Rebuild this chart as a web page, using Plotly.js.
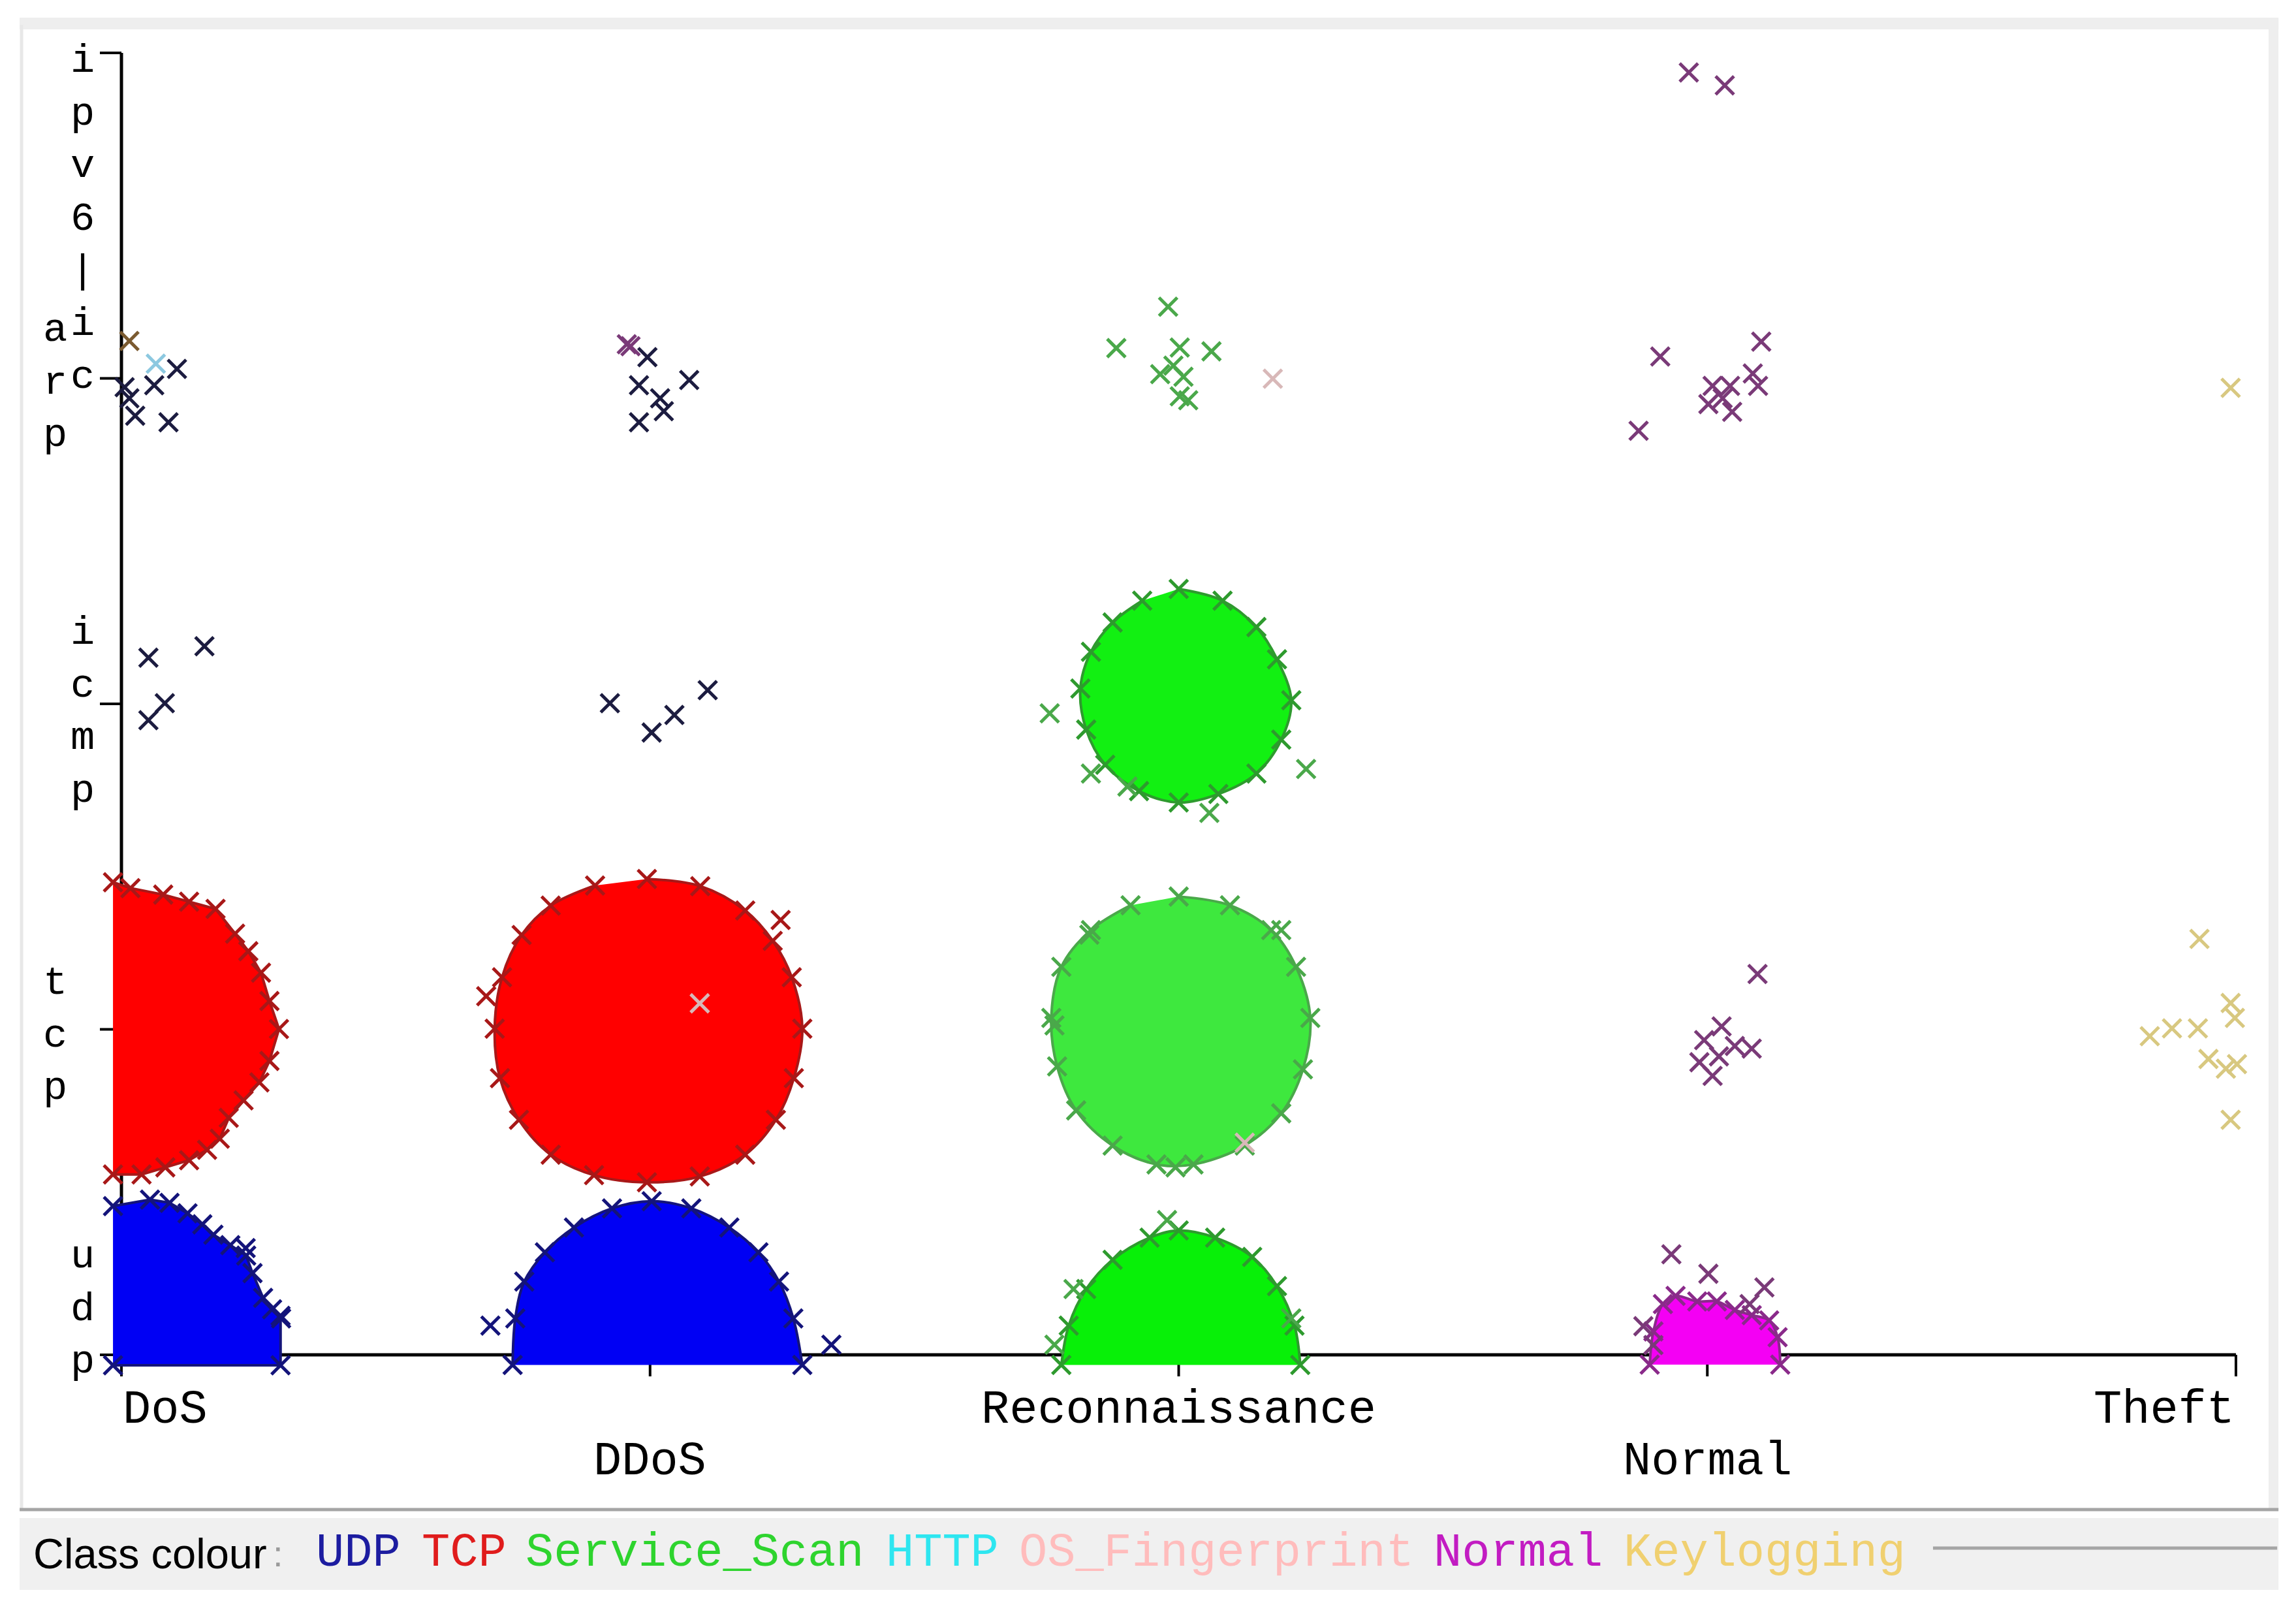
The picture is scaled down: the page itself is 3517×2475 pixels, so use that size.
<!DOCTYPE html>
<html>
<head>
<meta charset="utf-8">
<script src="https://cdn.plot.ly/plotly-3.0.1.min.js"></script>
<style>
html, body { margin: 0; padding: 0; background: #ffffff; }
#Grafico { width: 3517px; height: 2475px; }
</style>
</head>
<body>
<div id="Grafico"></div>
<script>
// categorias de los ejes (x = clase de ataque, y = protocolo)
let categoriasX = ['DoS', 'DDoS', 'Reconnaissance', 'Normal', 'Theft'];
let categoriasY = ['udp', 'tcp', 'icmp', 'arp', 'ipv6-icmp'];
let clases = ['UDP', 'TCP', 'Service_Scan', 'HTTP', 'OS_Fingerprint', 'Normal', 'Keylogging'];
let coloresLeyenda = ['#1c1ca0', '#e01c1c', '#2ed42e', '#2ee6f0', '#ffbcbc', '#c21cc2', '#f0d070'];

// contornos de las nubes densas (jitter)
let dosTcpX = [-0.016, 0.017, 0.079, 0.128, 0.178, 0.215, 0.240, 0.264, 0.280, 0.298, 0.280, 0.261, 0.231, 0.203, 0.186, 0.162, 0.128, 0.083, 0.038, -0.016];
let dosTcpY = [1.452, 1.434, 1.414, 1.392, 1.370, 1.294, 1.240, 1.174, 1.087, 1.001, 0.903, 0.837, 0.782, 0.728, 0.664, 0.630, 0.598, 0.576, 0.554, 0.554];
let dosUdpX = [-0.016, 0.054, 0.091, 0.125, 0.153, 0.174, 0.206, 0.236, 0.248, 0.268, 0.285, 0.301, 0.301, -0.016];
let dosUdpY = [0.457, 0.477, 0.467, 0.435, 0.401, 0.369, 0.337, 0.305, 0.251, 0.175, 0.140, 0.120, -0.032, -0.032];
let ddosTcpX = [0.994, 1.095, 1.180, 1.232, 1.268, 1.288, 1.272, 1.238, 1.180, 1.094, 0.994, 0.894, 0.812, 0.752, 0.716, 0.706, 0.720, 0.757, 0.812, 0.896];
let ddosTcpY = [1.462, 1.440, 1.365, 1.272, 1.160, 1.002, 0.850, 0.722, 0.615, 0.548, 0.530, 0.552, 0.615, 0.722, 0.850, 1.002, 1.160, 1.290, 1.380, 1.442];
let ddosUdpX = [0.740, 0.745, 0.762, 0.801, 0.856, 0.928, 1.003, 1.078, 1.150, 1.205, 1.244, 1.271, 1.288];
let ddosUdpY = [-0.031, 0.112, 0.225, 0.315, 0.391, 0.450, 0.472, 0.450, 0.391, 0.315, 0.225, 0.112, -0.031];
let reconIcmpX = [2.000, 2.083, 2.147, 2.186, 2.213, 2.194, 2.147, 2.075, 2.000, 1.925, 1.861, 1.825, 1.814, 1.834, 1.875, 1.931];
let reconIcmpY = [2.353, 2.317, 2.236, 2.137, 2.011, 1.890, 1.786, 1.723, 1.697, 1.732, 1.813, 1.921, 2.047, 2.160, 2.250, 2.317];
let reconTcpX = [2.000, 2.097, 2.175, 2.222, 2.249, 2.235, 2.194, 2.125, 2.028, 1.958, 1.875, 1.806, 1.770, 1.759, 1.778, 1.834, 1.909];
let reconTcpY = [1.408, 1.381, 1.305, 1.192, 1.035, 0.877, 0.742, 0.643, 0.585, 0.585, 0.643, 0.751, 0.886, 1.035, 1.192, 1.305, 1.381];
let reconUdpX = [1.778, 1.792, 1.825, 1.875, 1.945, 2.000, 2.069, 2.139, 2.186, 2.219, 2.230];
let reconUdpY = [-0.031, 0.090, 0.202, 0.292, 0.360, 0.382, 0.360, 0.301, 0.211, 0.090, -0.031];
let normalUdpX = [2.891, 2.898, 2.916, 2.940, 2.981, 3.018, 3.052, 3.084, 3.117, 3.133, 3.138];
let normalUdpY = [-0.030, 0.072, 0.156, 0.181, 0.164, 0.164, 0.138, 0.122, 0.106, 0.054, -0.030];

// puntos sueltos
let oscurosX = [0.105, 0.062, 0.006, 0.015, 0.026, 0.089, 0.995, 1.074, 0.979, 1.019, 1.026, 0.979, 0.051, 0.157, 0.082, 0.051, 0.924, 1.109, 1.046, 1.003];
let oscurosY = [3.029, 2.979, 2.973, 2.939, 2.885, 2.865, 3.065, 2.995, 2.979, 2.939, 2.899, 2.865, 2.142, 2.177, 2.002, 1.950, 2.002, 2.042, 1.966, 1.912];
let azulesX = [1.343, 0.698, 0.302, 0.235];
let azulesY = [0.031, 0.090, 0.112, 0.328];
let rojosX = [0.690, 1.247];
let rojosY = [1.102, 1.336];
let verdesX = [1.980, 1.882, 2.062, 2.002, 1.990, 1.965, 2.009, 2.002, 2.018, 1.756, 2.241, 1.903, 2.058, 1.834, 1.831, 2.194, 1.765, 1.994, 1.978, 1.801, 1.765, 2.213];
let verdesY = [3.220, 3.093, 3.083, 3.095, 3.039, 3.013, 3.005, 2.945, 2.933, 1.971, 1.800, 1.746, 1.665, 1.786, 1.291, 1.305, 1.012, 0.576, 0.414, 0.202, 0.031, 0.112];
let httpX = [0.065];
let httpY = [3.045];
let osfX = [2.178, 2.125, 1.094];
let osfY = [2.999, 0.652, 1.080];
let normalX = [2.965, 3.033, 2.911, 3.102, 3.086, 3.010, 3.043, 3.096, 3.002, 3.047, 2.870, 3.029, 3.095, 3.027, 2.994, 3.052, 3.084, 2.985, 3.010, 3.022, 2.932, 3.002, 3.108, 3.080, 2.879, 2.898, 0.956, 0.963];
let normalY = [3.940, 3.900, 3.067, 3.113, 3.015, 2.977, 2.977, 2.977, 2.921, 2.897, 2.839, 2.939, 1.170, 1.009, 0.967, 0.949, 0.941, 0.899, 0.857, 0.917, 0.309, 0.249, 0.207, 0.156, 0.088, 0.030, 3.105, 3.099];
let keyloggingX = [3.990, 3.931, 3.837, 3.879, 3.928, 3.990, 3.998, 3.948, 3.981, 4.002, 3.990];
let keyloggingY = [2.971, 1.278, 0.979, 1.003, 1.003, 1.081, 1.035, 0.909, 0.879, 0.893, 0.722];
let marronX = [0.015];
let marronY = [3.115];

let rangoX = [-0.0445, 4.0247];
let rangoY = [-0.0742, 4.0321];
function papelX(v) { return (v - rangoX[0]) / (rangoX[1] - rangoX[0]); }
function papelY(v) { return (v - rangoY[0]) / (rangoY[1] - rangoY[0]); }

function mancha(x, y, relleno, borde, forma) {
	return {
		x: x, y: y, type: 'scatter', mode: 'lines+markers', fill: 'toself',
		fillcolor: relleno, line: {color: borde, width: 4, shape: forma, smoothing: 1},
		marker: {symbol: 'x-thin', size: 28, line: {color: borde, width: 5}},
		hoverinfo: 'skip'
	};
}

function cruces(x, y, color) {
	return {
		x: x, y: y, type: 'scatter', mode: 'markers',
		marker: {symbol: 'x-thin', size: 28, line: {color: color, width: 5}},
		hoverinfo: 'skip'
	};
}

let trazas = [
	mancha(dosTcpX, dosTcpY, '#ff0000', '#a81818', 'linear'),
	mancha(dosUdpX, dosUdpY, '#0000f4', '#14147a', 'linear'),
	mancha(ddosTcpX, ddosTcpY, '#ff0000', '#a81818', 'spline'),
	mancha(ddosUdpX, ddosUdpY, '#0000f4', '#14147a', 'spline'),
	mancha(reconIcmpX, reconIcmpY, '#12f012', '#2e9a2e', 'spline'),
	mancha(reconTcpX, reconTcpY, '#3ee83e', '#4aa84a', 'spline'),
	mancha(reconUdpX, reconUdpY, '#08f008', '#2e9a2e', 'spline'),
	mancha(normalUdpX, normalUdpY, '#f400f4', '#8a2a8a', 'spline'),
	cruces(oscurosX, oscurosY, '#1c1c40'),
	cruces(azulesX, azulesY, '#14147a'),
	cruces(rojosX, rojosY, '#a81818'),
	cruces(verdesX, verdesY, '#4aa84a'),
	cruces(httpX, httpY, '#8cc8e0'),
	cruces(osfX, osfY, '#d8b8b8'),
	cruces(normalX, normalY, '#7a3a78'),
	cruces(keyloggingX, keyloggingY, '#d8c880'),
	cruces(marronX, marronY, '#7a5a30')
];

// ejes dibujados a mano como en Weka
let formas = [
	{type: 'line', xref: 'x', yref: 'y', x0: 0, x1: 4, y0: 0, y1: 0, line: {color: '#000000', width: 5}, layer: 'below'},
	{type: 'line', xref: 'x', yref: 'y', x0: 0, x1: 0, y0: 0, y1: 4, line: {color: '#000000', width: 5}, layer: 'below'}
];
for (let i = 0; i < categoriasX.length; i++) {
	formas.push({type: 'line', xref: 'x', yref: 'y', ysizemode: 'pixel', yanchor: 0, x0: i, x1: i, y0: 0, y1: -33,
		line: {color: '#000000', width: 4}, layer: 'below'});
}
for (let j = 0; j < categoriasY.length; j++) {
	formas.push({type: 'line', xref: 'x', yref: 'y', xsizemode: 'pixel', xanchor: 0, x0: -33, x1: 0, y0: j, y1: j,
		line: {color: '#000000', width: 4}, layer: 'below'});
}
// marco y barra de la leyenda
formas.push({type: 'rect', xref: 'paper', yref: 'paper', x0: -0.0364, x1: 1.0137, y0: 1.0098, y1: 1.0186, fillcolor: '#eeeeee', line: {width: 0}});
formas.push({type: 'line', xref: 'paper', yref: 'paper', x0: -0.0355, x1: -0.0355, y0: -0.0977, y1: 1.0132, line: {color: '#e8e8e8', width: 5}});
formas.push({type: 'rect', xref: 'paper', yref: 'paper', x0: 1.0091, x1: 1.0137, y0: -0.0977, y1: 1.0176, fillcolor: '#eeeeee', line: {width: 0}});
formas.push({type: 'rect', xref: 'paper', yref: 'paper', x0: -0.0364, x1: 1.0137, y0: -0.1578, y1: -0.1041, fillcolor: '#f0f0f0', line: {width: 0}});
formas.push({type: 'line', xref: 'paper', yref: 'paper', x0: -0.0364, x1: 1.0137, y0: -0.0977, y1: -0.0977, line: {color: '#a5a5a5', width: 5}});
formas.push({type: 'line', xref: 'paper', yref: 'paper', x0: 0.8531, x1: 1.0131, y0: -0.1265, y1: -0.1265, line: {color: '#a5a5a5', width: 5}});

let notas = [];
let fuenteMono = 'Liberation Mono, DejaVu Sans Mono, monospace';
// etiquetas del eje x, escalonadas en dos filas
let filaX = [-0.171, -0.329, -0.171, -0.329, -0.171];
let anclaX = ['left', 'center', 'center', 'center', 'right'];
for (let i = 0; i < categoriasX.length; i++) {
	notas.push({xref: 'paper', yref: 'paper', x: papelX(i), y: papelY(filaX[i]), text: categoriasX[i], showarrow: false,
		xanchor: anclaX[i], yanchor: 'middle', font: {family: fuenteMono, size: 72, color: '#000000'}});
}
// etiquetas del eje y, letra por letra en vertical
let posYx = [-0.074, -0.126, -0.074, -0.126, -0.074];
let posYy = [0.14, 0.98, 1.974, 2.987, 3.49];
let largoY = [3, 3, 4, 3, 7];
for (let j = 0; j < categoriasY.length; j++) {
	let letras = categoriasY[j].slice(0, largoY[j]).split('').map(c => c === '-' ? '|' : c);
	notas.push({xref: 'paper', yref: 'paper', x: papelX(posYx[j]), y: papelY(posYy[j]), text: letras.join('<br>'), showarrow: false,
		xanchor: 'center', yanchor: 'middle', align: 'center', font: {family: fuenteMono, size: 62, color: '#000000'}});
}
// leyenda de clases
notas.push({xref: 'paper', yref: 'paper', x: -0.0307, y: -0.1305, text: 'Class colour', showarrow: false,
	xanchor: 'left', yanchor: 'middle', font: {family: 'Liberation Sans Narrow, Liberation Sans, Arial, sans-serif', size: 65, color: '#000000'}});
notas.push({xref: 'paper', yref: 'paper', x: 0.0838, y: -0.1305, text: ':', showarrow: false,
	xanchor: 'center', yanchor: 'middle', font: {family: 'Liberation Sans, sans-serif', size: 56, color: '#9a9a9a'}});
let posLeyenda = [0.1008, 0.1499, 0.1982, 0.3657, 0.4276, 0.6203, 0.7087];
for (let k = 0; k < clases.length; k++) {
	notas.push({xref: 'paper', yref: 'paper', x: posLeyenda[k], y: -0.1305, text: clases[k], showarrow: false,
		xanchor: 'left', yanchor: 'middle', font: {family: fuenteMono, size: 72, color: coloresLeyenda[k]}});
}

let layout = {
	width: 3517,
	height: 2475,
	margin: {l: 150, r: 72, t: 65, b: 363},
	paper_bgcolor: '#ffffff',
	plot_bgcolor: '#ffffff',
	showlegend: false,
	xaxis: {range: rangoX, showgrid: false, zeroline: false, showticklabels: false, ticks: '', showline: false},
	yaxis: {range: rangoY, showgrid: false, zeroline: false, showticklabels: false, ticks: '', showline: false},
	shapes: formas,
	annotations: notas
};

let contenedor = document.getElementById('Grafico');
Plotly.newPlot(contenedor, trazas, layout, {displayModeBar: false, staticPlot: true});
</script>
</body>
</html>
